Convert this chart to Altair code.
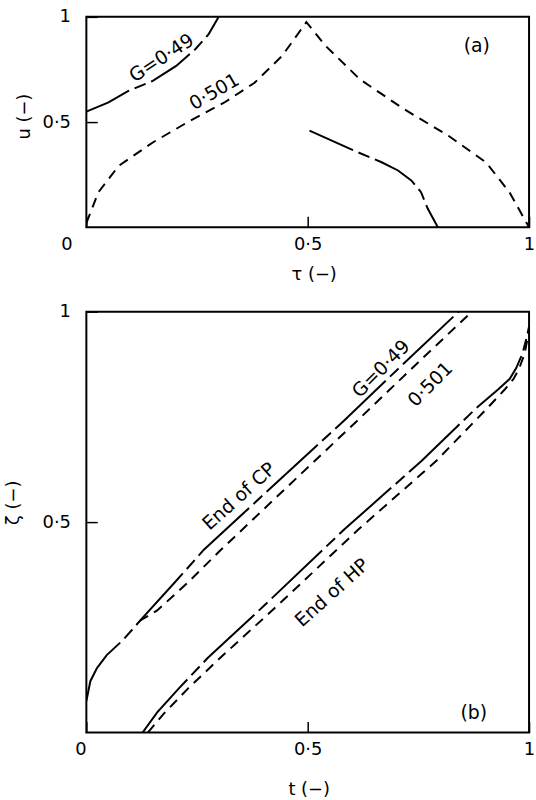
import altair as alt
import pandas as pd

FONT = "DejaVu Sans"
INK = "black"

# ---------------- panel (a): u against tau ----------------
# G = 0.49, branch starting on the left edge
a_049_left_tau = [0.0, 0.050, 0.096, 0.150, 0.203, 0.246, 0.276, 0.299]
a_049_left_u = [0.550, 0.594, 0.649, 0.696, 0.767, 0.846, 0.917, 1.0]
# G = 0.49, branch starting at tau = 0.5
a_049_right_tau = [0.504, 0.614, 0.667, 0.704, 0.734, 0.756, 0.771, 0.794]
a_049_right_u = [0.459, 0.356, 0.309, 0.270, 0.223, 0.167, 0.089, 0.0]
# G = 0.501
a_0501_tau = [0.0, 0.027, 0.073, 0.150, 0.234, 0.311, 0.380, 0.442, 0.497,
              0.541, 0.618, 0.718, 0.818, 0.903, 0.956, 1.0]
a_0501_u = [0.02, 0.166, 0.292, 0.403, 0.506, 0.592, 0.687, 0.814, 0.975,
            0.861, 0.703, 0.561, 0.435, 0.308, 0.166, 0.0]

# ---------------- panel (b): zeta against t ----------------
# end of cold period (CP)
b_cp_049_t = [0.0, 0.009, 0.024, 0.046, 0.083, 0.13, 0.20, 0.266, 0.40, 0.583, 0.72, 0.841]
b_cp_049_z = [0.075, 0.122, 0.153, 0.184, 0.220, 0.276, 0.357, 0.435, 0.565, 0.742, 0.88, 1.0]
b_cp_0501_t = [0.12, 0.16, 0.23, 0.30, 0.43, 0.613, 0.75, 0.871]
b_cp_0501_z = [0.265, 0.290, 0.357, 0.430, 0.560, 0.742, 0.88, 1.0]
# end of hot period (HP)
b_hp_049_t = [0.127, 0.16, 0.21, 0.274, 0.40, 0.583, 0.757, 0.88, 0.93, 0.956,
              0.971, 0.985, 0.995, 1.0]
b_hp_049_z = [0.0, 0.048, 0.106, 0.177, 0.30, 0.483, 0.645, 0.77, 0.815, 0.84,
              0.866, 0.90, 0.94, 0.965]
b_hp_0501_t = [0.139, 0.175, 0.23, 0.305, 0.43, 0.615, 0.79, 0.905, 0.945, 0.965,
               0.978, 0.99, 1.0]
b_hp_0501_z = [0.0, 0.045, 0.105, 0.18, 0.30, 0.483, 0.645, 0.77, 0.815, 0.84,
               0.866, 0.90, 0.955]

# curve annotations: text, anchor (x, y) in data units, rotation in degrees
a_notes = [("G=0·49", 0.170, 0.804, 327), ("0·501", 0.289, 0.644, 330),
           ("(a)", 0.882, 0.859, 0)]
b_notes = [("End of CP", 0.345, 0.561, 318), ("G=0·49", 0.666, 0.864, 315),
           ("0·501", 0.777, 0.827, 315), ("End of HP", 0.555, 0.332, 318),
           ("(b)", 0.875, 0.047, 0)]

DASH = [10, 7]


def curves(items):
    frames = []
    for name, xs, ys in items:
        frames.append(pd.DataFrame({"x": xs, "y": ys, "curve": name,
                                    "i": list(range(len(xs)))}))
    return pd.concat(frames, ignore_index=True)


LABEL_EXPR = "datum.value == 0.5 ? '0·5' : (datum.value == 0 ? '0' : '1')"


def axis(title, values, title_angle=0, **kw):
    return alt.Axis(
        values=values, title=title, labelExpr=LABEL_EXPR, labelFlush=False,
        tickSize={"expr": "-11"}, tickColor=INK, tickWidth=1.5,
        labelFont=FONT, labelFontSize=18, labelColor=INK,
        titleFont=FONT, titleFontSize=18, titleFontWeight="normal", titleColor=INK,
        titleAlign="center", titleBaseline="middle", titleAngle=title_angle,
        domain=False, grid=False, **kw)


def panel(chain_items, dash_items, notes, chain_dash, x_axis, y_axis, w, h):
    sc = alt.Scale(domain=[0, 1], nice=False, zero=False)
    x = alt.X("x:Q", scale=sc, axis=x_axis)
    y = alt.Y("y:Q", scale=sc, axis=y_axis)
    chain = alt.Chart(curves(chain_items)).mark_line(
        color=INK, strokeWidth=2, strokeDash=chain_dash, clip=True
    ).encode(x=x, y=y, detail="curve:N", order="i:Q")
    dashed = alt.Chart(curves(dash_items)).mark_line(
        color=INK, strokeWidth=2, strokeDash=DASH, clip=True
    ).encode(x=x, y=y, detail="curve:N", order="i:Q")
    note_df = pd.DataFrame(notes, columns=["text", "x", "y", "angle"])
    text = alt.Chart(note_df).mark_text(
        font=FONT, fontSize=19, color=INK
    ).encode(x=alt.X("x:Q", scale=sc), y=alt.Y("y:Q", scale=sc), text="text:N",
             angle=alt.Angle("angle:Q", scale=None))
    return alt.layer(dashed, chain, text).properties(width=w, height=h)


top = panel(
    [("g049_left", a_049_left_tau, a_049_left_u),
     ("g049_right", a_049_right_tau, a_049_right_u)],
    [("g0501", a_0501_tau, a_0501_u)],
    a_notes, [48, 6, 12, 6],
    axis("τ (−)", [0, 0.5, 1], labelPadding=19, titleX=229, titleY=48,
         labelOffset={"condition": {"test": "datum.value == 0", "value": -20}, "value": 0}),
    axis("u (−)", [0.5, 1], title_angle=270, labelPadding=27, titleX=-62, titleY=100),
    446, 212,
)

bottom = panel(
    [("cp049", b_cp_049_t, b_cp_049_z), ("hp049", b_hp_049_t, b_hp_049_z)],
    [("cp0501", b_cp_0501_t, b_cp_0501_z), ("hp0501", b_hp_0501_t, b_hp_0501_z)],
    b_notes, [70, 6, 12, 6],
    axis("t (−)", [0, 0.5, 1], labelPadding=19, titleX=224, titleY=57,
         labelOffset={"condition": {"test": "datum.value == 0", "value": -6}, "value": 0}),
    axis("ζ (−)", [0.5, 1], title_angle=270, labelPadding=27, titleX=-73, titleY=192),
    446, 424,
)

chart = alt.vconcat(top, bottom, spacing=85, bounds="flush").properties(
    padding={"left": 4, "top": 4, "right": 0, "bottom": 0}
).configure(background="white").configure_view(stroke=INK, strokeWidth=2)

chart.save("out.html", embed_options={"renderer": "svg", "actions": False})
